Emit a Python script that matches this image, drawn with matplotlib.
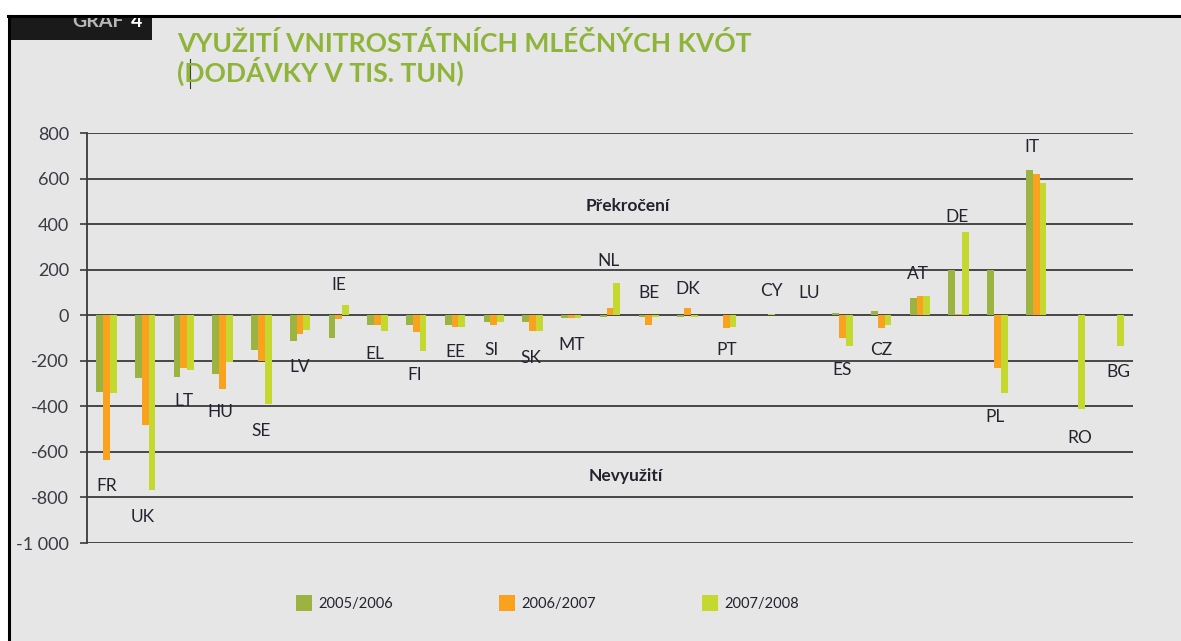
import numpy as np
import matplotlib.pyplot as plt
from matplotlib.patches import Rectangle
from matplotlib.lines import Line2D
from matplotlib.ticker import FuncFormatter

plt.rcParams['font.family'] = ['Lato', 'DejaVu Sans']

countries = ['FR', 'UK', 'LT', 'HU', 'SE', 'LV', 'IE', 'EL', 'FI', 'EE', 'SI', 'SK', 'MT', 'NL',
             'BE', 'DK', 'PT', 'CY', 'LU', 'ES', 'CZ', 'AT', 'DE', 'PL', 'IT', 'RO', 'BG']
v0506 = [-338, -276, -272, -257, -152, -111, -102, -45, -42, -42, -29, -29, -12, -8,
         -7, -7, 0, 0, 0, 10, 20, 76, 200, 200, 637, 0, 0]
v0607 = [-637, -481, -232, -326, -203, -82, -16, -45, -73, -50, -43, -69, -12, 31,
         -43, 30, -58, 0, 0, -98, -58, 86, 6, -230, 620, 0, 0]
v0708 = [-342, -769, -242, -206, -389, -63, 43, -68, -158, -50, -29, -69, -12, 140,
         -7, -7, -53, 5, 0, -135, -43, 86, 367, -340, 579, -413, -133]
seasons = ['2005/2006', '2006/2007', '2007/2008']
colors = ['#9bb340', '#f9a21d', '#c5d82f']

# where the country codes sit (data units)
label_y = [-748, -884, -375, -423, -507, -226, 134, -169, -261, -160, -151, -186, -129, 239,
           99, 116, -151, 108, 99, -240, -151, 182, 433, -445, 739, -537, -248]
label_dx = [0, -0.05, 0, -0.05, 0, 0, 0, -0.07, -0.05, 0, -0.05, -0.05, 0, -0.05,
            0, 0, 0, 0.16, 0.14, 0, 0, -0.05, -0.05, -0.05, -0.12, 0.13, 0.13]

W, H = 1181, 641
bg = '#e6e6e6'
fig = plt.figure(figsize=(W / 100, H / 100), dpi=100)
fig.patch.set_facecolor('white')


def fx(px):
    return px / W


def fy(py):
    return 1 - py / H


# page background and frame
fig.patches.append(Rectangle((fx(9), 0), 1, fy(16), transform=fig.transFigure,
                             facecolor=bg, edgecolor='none', zorder=-10))
fig.patches.append(Rectangle((fx(8), fy(40)), fx(144), fy(15) - fy(40), transform=fig.transFigure,
                             facecolor='#1a1a1a', edgecolor='none', zorder=1))
fig.text(fx(72), fy(27), 'GRAF', color='#b8b8b8', fontsize=14, weight='bold', va='baseline', zorder=2)
fig.text(fx(131), fy(27), '4', color='white', fontsize=14, weight='bold', va='baseline', zorder=2)
fig.patches.append(Rectangle((0, fy(15)), 1, 1, transform=fig.transFigure,
                             facecolor='white', edgecolor='none', zorder=3))
fig.lines.append(Line2D([fx(8), 1], [fy(16), fy(16)], transform=fig.transFigure,
                        color='black', lw=2.2, zorder=4))
fig.lines.append(Line2D([fx(9), fx(9)], [0, fy(16)], transform=fig.transFigure,
                        color='black', lw=2.2, zorder=4))

# title
title_col = '#8fb43a'
fig.text(fx(177), fy(44), 'VYUŽITÍ VNITROSTÁTNÍCH MLÉČNÝCH KVÓT', color=title_col,
         fontsize=19.1, weight='bold', va='center')
fig.text(fx(177), fy(71), '(DODÁVKY V TIS. TUN)', color=title_col,
         fontsize=19.1, weight='bold', va='center')
fig.lines.append(Line2D([fx(190), fx(190)], [fy(59), fy(88)], transform=fig.transFigure,
                        color='#333333', lw=0.8))

ax = fig.add_axes([fx(87), fy(543), fx(1133) - fx(87), fy(133) - fy(543)])
ax.set_facecolor('none')

x = np.arange(len(countries))
bw = 0.175
for k, (vals, c, s) in enumerate(zip([v0506, v0607, v0708], colors, seasons)):
    ax.bar(x + (k - 1) * bw, vals, width=bw, color=c, label=s, zorder=2)

for i, c in enumerate(countries):
    ax.text(x[i] + label_dx[i], label_y[i], c, ha='center', va='center',
            fontsize=12.5, color='#23232f')

ax.text(13.45, 480, 'Překročení', ha='center', va='center', fontsize=12.5,
        weight='bold', color='#23232f')
ax.text(13.4, -708, 'Nevyužití', ha='center', va='center', fontsize=12.5,
        weight='bold', color='#23232f')

ax.set_xlim(-0.5, len(countries) - 0.5)
ax.set_ylim(-1000, 800)
ax.set_yticks(np.arange(-1000, 801, 200))
ax.yaxis.set_major_formatter(FuncFormatter(lambda v, p: f'{int(v):,}'.replace(',', ' ')))
ax.set_xticks([])
ax.yaxis.grid(True, color='#3a3a3a', lw=1.3, zorder=0)
ax.set_axisbelow(True)
for sp in ['top', 'right', 'bottom']:
    ax.spines[sp].set_visible(False)
ax.spines['left'].set_color('#3a3a3a')
ax.spines['left'].set_linewidth(1.3)
ax.tick_params(axis='y', length=5, width=1.2, color='#3a3a3a', pad=8,
               labelsize=13, labelcolor='#3a3a44')

handles, labels = ax.get_legend_handles_labels()
fig.legend(handles, labels, loc='center left', bbox_to_anchor=(fx(283), fy(603)), ncol=3,
           frameon=False, fontsize=10.5, handlelength=1.1, handleheight=1.3,
           handletextpad=0.45, columnspacing=7.25, labelcolor='#23232f')

fig.savefig('out.png', dpi=100, facecolor=fig.get_facecolor())
